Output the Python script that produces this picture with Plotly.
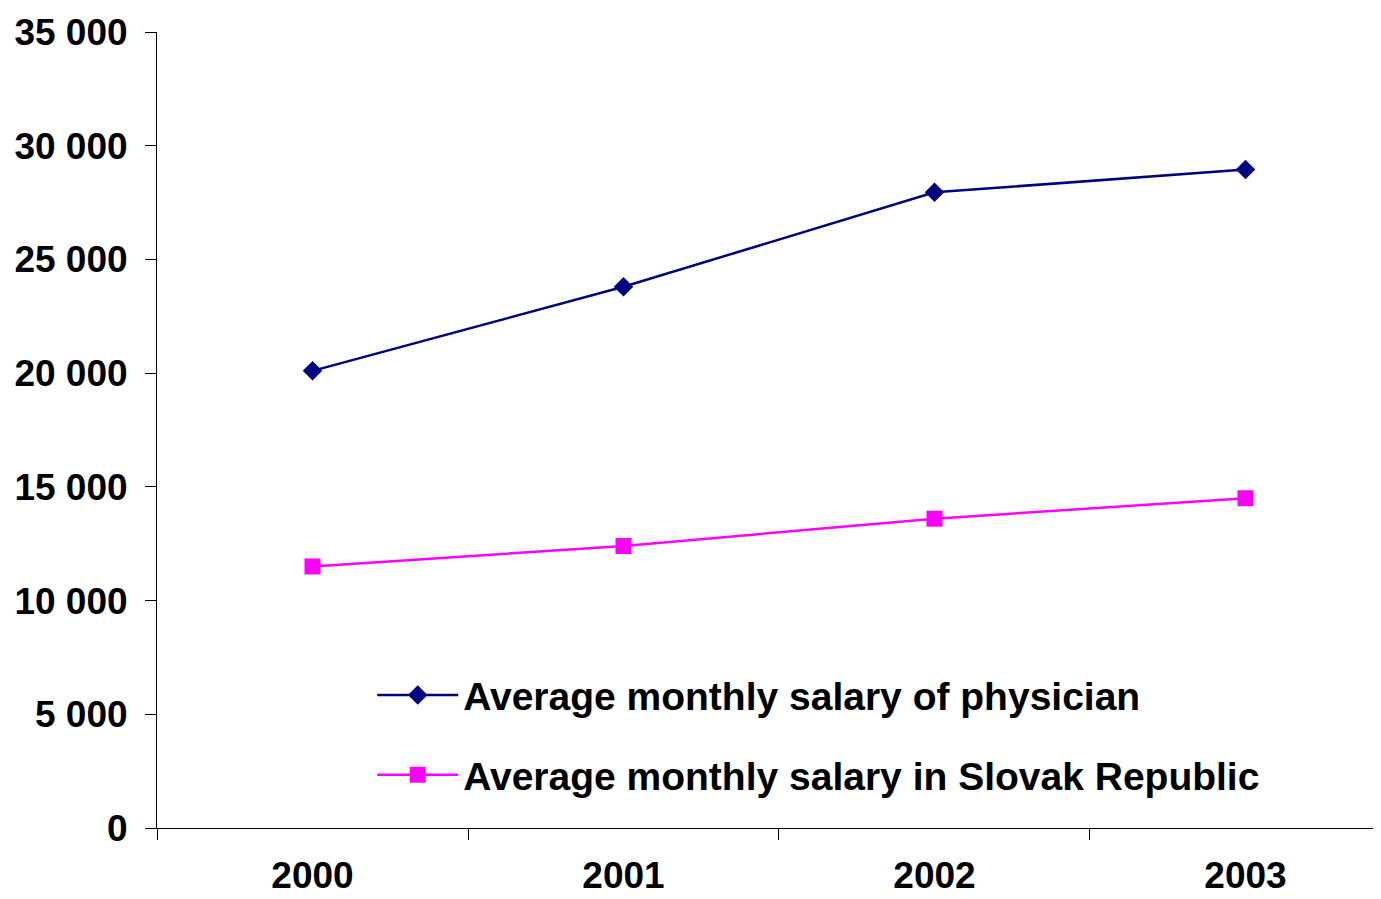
import plotly.graph_objects as go

years = ["2000", "2001", "2002", "2003"]
physician = [20100, 23800, 27950, 28950]
slovak = [11500, 12400, 13600, 14500]
series_names = ["Average monthly salary of physician",
                "Average monthly salary in Slovak Republic"]
y_ticks = [0, 5000, 10000, 15000, 20000, 25000, 30000, 35000]

FONT = "Liberation Sans, Arial, sans-serif"

fig = go.Figure()
fig.add_trace(go.Scatter(
    x=years, y=physician, name=series_names[0], mode="lines+markers",
    line=dict(color="#000080", width=2.5),
    marker=dict(symbol="diamond", size=15, color="#000080"),
    legendgroup="a"))
fig.add_trace(go.Scatter(
    x=years, y=slovak, name=series_names[1], mode="lines+markers",
    line=dict(color="#FF00FF", width=2.5),
    marker=dict(symbol="square", size=16, color="#FF00FF"),
    legendgroup="b"))

fig.update_layout(
    width=1365, height=891,
    margin=dict(l=149, r=0, t=24, b=71),
    paper_bgcolor="white", plot_bgcolor="white",
    separators=". ",
    font=dict(family=FONT, color="black", size=37, weight="bold"),
    legend=dict(
        x=0.177, y=0.207, xanchor="left", yanchor="top",
        font=dict(family=FONT, size=39, color="black", weight="bold"),
        bgcolor="rgba(0,0,0,0)", tracegroupgap=26, itemwidth=81,
    ),
    showlegend=True,
)
fig.update_xaxes(
    type="category", range=[-0.5, 3.41], automargin=False,
    showline=True, linecolor="black", linewidth=1,
    ticks="outside", tickson="boundaries", ticklen=11, tickcolor="black",
    ticklabelstandoff=15,
    showgrid=False, zeroline=False,
    tickfont=dict(family=FONT, size=37, color="black", weight="bold"),
)
fig.update_yaxes(
    range=[0, 35000], tickvals=y_ticks, tickformat=",d", automargin=False,
    showline=True, linecolor="black", linewidth=1,
    ticks="outside", ticklen=11, tickcolor="black",
    ticklabelstandoff=10,
    showgrid=False, zeroline=False,
    tickfont=dict(family=FONT, size=37, color="black", weight="bold"),
)

fig.write_html("out.html")
